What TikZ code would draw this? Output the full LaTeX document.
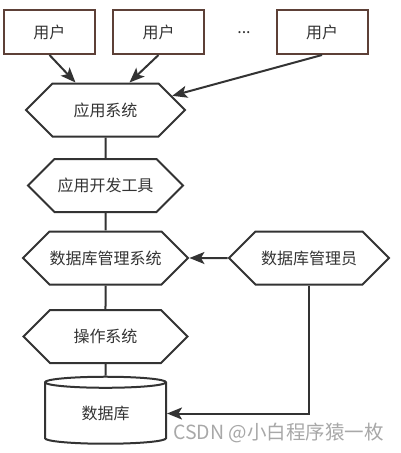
\documentclass[tikz,border=0pt]{standalone}
\usepackage{fontspec}
\setmainfont{Noto Sans CJK SC}
\usetikzlibrary{shapes.symbols,shapes.geometric,arrows.meta}
\definecolor{linegray}{HTML}{333333}
\definecolor{boxbrown}{HTML}{5D4037}
\definecolor{markgray}{HTML}{A8A8A8}
\tikzset{
  userbox/.style={draw=boxbrown, line width=2pt, minimum width=91pt, minimum height=44pt, inner sep=0pt},
  hexbox/.style={signal, signal to=west and east, signal pointer angle=90, draw=linegray, line width=2pt, minimum height=53pt, inner sep=0pt},
  link/.style={draw=linegray, line width=2pt},
  arrow/.style={link, -{Stealth[length=15pt,width=12pt,inset=3.5pt]}},
}
\begin{document}
\begin{tikzpicture}[x=1pt, y=-1pt, font=\fontsize{16}{19}\selectfont, text=linegray]
  \useasboundingbox (0,0) rectangle (400,453);
  % users on top
  \node[userbox] (user1) at (49.5,32) {用户};
  \node[userbox] (user2) at (158.5,32) {用户};
  \node (dots) at (244,33) {...};
  \node[userbox] (user3) at (322,32) {用户};
  % the layered stack
  \node[hexbox, minimum width=159pt] (app) at (105.5,110) {应用系统};
  \node[hexbox, minimum width=155pt] (devtool) at (105.5,185.5) {应用开发工具};
  \node[hexbox, minimum width=159pt] (dbms) at (105.5,258) {数据库管理系统};
  \node[hexbox, minimum width=160pt] (dba) at (309,258) {数据库管理员};
  \node[hexbox, minimum width=164pt] (os) at (105.5,336.5) {操作系统};
  % database
  \node[cylinder, shape border rotate=90, aspect=0.23, draw=linegray, line width=2pt,
        minimum width=121pt, minimum height=67pt, inner sep=0pt] (db) at (105.5,413.5) {数据库};
  % users -> app
  \draw[arrow] (user1.south) -- ([xshift=-30pt]app.north);
  \draw[arrow] (user2.south) -- ([xshift=24pt]app.north);
  \draw[arrow] (user3.south) -- (app.12);
  % stack links
  \draw[link] (app) -- (devtool);
  \draw[link] (devtool) -- (dbms);
  \draw[link] (dbms) -- (os);
  \draw[link] (os) -- (db);
  % administrator
  \draw[arrow] (dba) -- (dbms);
  \draw[arrow] (dba.south) |- (db.east);
  % watermark
  \node[text=markgray, font=\fontsize{19.5}{22}\selectfont] (mark) at (278.5,433) {CSDN @小白程序猿一枚};
\end{tikzpicture}
\end{document}
